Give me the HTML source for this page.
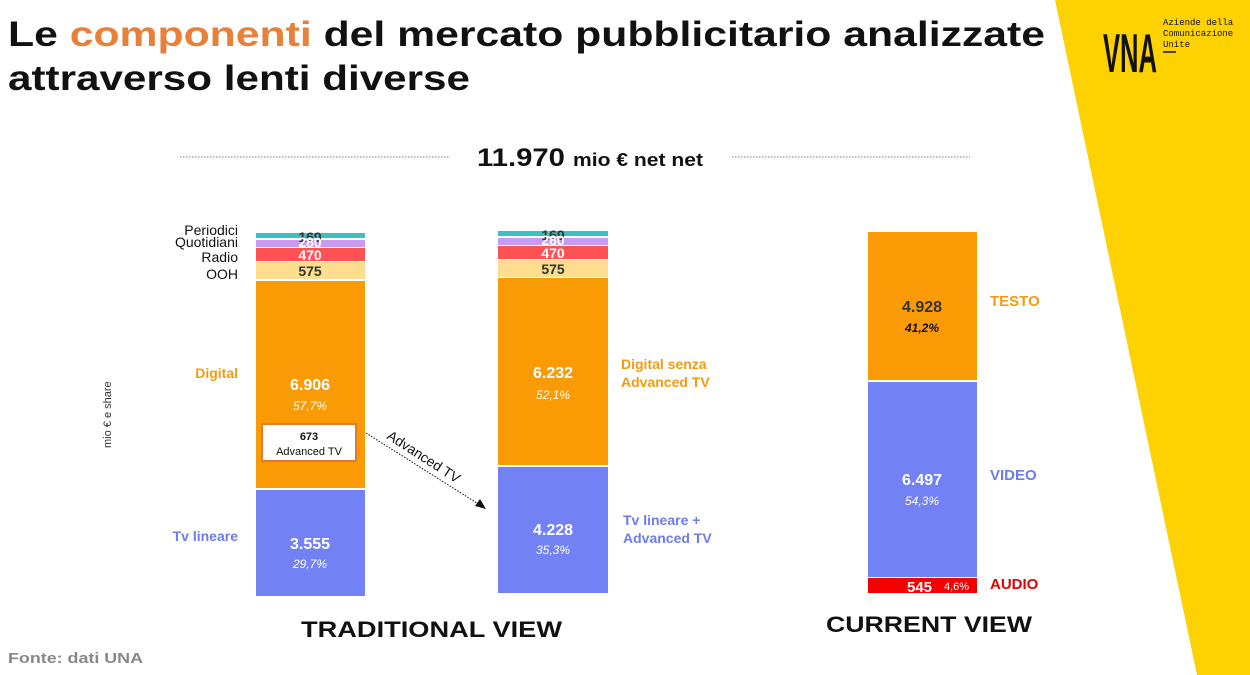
<!DOCTYPE html>
<html><head><meta charset="utf-8"><style>
html,body{margin:0;padding:0;background:#fff;}
svg{display:block;font-family:"Liberation Sans",sans-serif;}
</style></head><body>
<svg width="1250" height="675" viewBox="0 0 1250 675" xmlns="http://www.w3.org/2000/svg">
<polygon points="1055,0 1250,0 1250,675 1197,675" fill="#FED100"/>
<!-- logo -->
<text transform="translate(1103,72) scale(1,1.6)" font-size="34" font-weight="bold" fill="#111" textLength="54" lengthAdjust="spacingAndGlyphs">VNA</text>
<text x="1163" y="25" font-family="Liberation Mono,monospace" font-size="9" fill="#111">Aziende della</text>
<text x="1163" y="36" font-family="Liberation Mono,monospace" font-size="9" fill="#111">Comunicazione</text>
<text x="1163" y="47" font-family="Liberation Mono,monospace" font-size="9" fill="#111">Unite</text>
<line x1="1163" y1="52" x2="1176" y2="52" stroke="#111" stroke-width="1.5"/>
<!-- title -->
<text x="8" y="46" font-size="35" font-weight="bold" textLength="1037" lengthAdjust="spacingAndGlyphs" fill="#111">Le <tspan fill="#E8803A">componenti</tspan> del mercato pubblicitario analizzate</text>
<text x="8" y="90" font-size="35" font-weight="bold" textLength="462" lengthAdjust="spacingAndGlyphs" fill="#111">attraverso lenti diverse</text>
<!-- total -->
<line x1="180" y1="157" x2="450" y2="157" stroke="#777" stroke-dasharray="1.5,1.5"/>
<line x1="732" y1="157" x2="970" y2="157" stroke="#777" stroke-dasharray="1.5,1.5"/>
<text x="477" y="166" font-size="25" font-weight="bold" fill="#111" textLength="226" lengthAdjust="spacingAndGlyphs">11.970 <tspan font-size="18">mio € net net</tspan></text>
<text transform="translate(111,448) rotate(-90)" font-size="11" fill="#333">mio € e share</text>
<!-- left bar -->
<rect x="256" y="233" width="109" height="5" fill="#3FC0C0"/>
<rect x="256" y="240" width="109" height="7" fill="#C89BF0"/>
<rect x="256" y="248" width="109" height="13" fill="#FF5252"/>
<rect x="256" y="262" width="109" height="17" fill="#FDDD8E"/>
<rect x="256" y="281" width="109" height="207" fill="#FA9A05"/>
<rect x="256" y="490" width="109" height="106" fill="#7282F5"/>
<g font-size="14" font-weight="bold" text-anchor="middle">
<text x="310" y="242" fill="#333">169</text>
<text x="310" y="247" fill="#fff">280</text>
<text x="310" y="260" fill="#fff">470</text>
<text x="310" y="276" fill="#333">575</text>
<text x="310" y="390" fill="#fff" font-size="16">6.906</text>
<text x="310" y="410" fill="#fff" font-size="12" font-style="italic" font-weight="normal">57,7%</text>
<text x="310" y="549" fill="#fff" font-size="16">3.555</text>
<text x="310" y="568" fill="#fff" font-size="12" font-style="italic" font-weight="normal">29,7%</text>
</g>
<rect x="262" y="424" width="94" height="37" fill="#fff" stroke="#E47B2C" stroke-width="2"/>
<text x="309" y="440" font-size="11" font-weight="bold" text-anchor="middle" fill="#111">673</text>
<text x="309" y="455" font-size="11" text-anchor="middle" fill="#111">Advanced TV</text>
<g font-size="14" text-anchor="end" fill="#111">
<text x="238" y="235">Periodici</text>
<text x="238" y="247">Quotidiani</text>
<text x="238" y="262">Radio</text>
<text x="238" y="279">OOH</text>
<text x="238" y="378" fill="#F59A0F" font-weight="bold" font-size="14">Digital</text>
<text x="238" y="541" fill="#6C7BEF" font-weight="bold" font-size="14">Tv lineare</text>
</g>
<!-- arrow -->
<line x1="366" y1="433" x2="480" y2="505" stroke="#111" stroke-dasharray="1.5,1.5"/>
<polygon points="486,509 475,506 480,499" fill="#111"/>
<text transform="translate(386,438) rotate(33)" font-size="14" fill="#111">Advanced TV</text>
<!-- middle bar -->
<rect x="498" y="231" width="110" height="5" fill="#3FC0C0"/>
<rect x="498" y="238" width="110" height="7" fill="#C89BF0"/>
<rect x="498" y="246" width="110" height="13" fill="#FF5252"/>
<rect x="498" y="260" width="110" height="17" fill="#FDDD8E"/>
<rect x="498" y="278" width="110" height="187" fill="#FA9A05"/>
<rect x="498" y="467" width="110" height="126" fill="#7282F5"/>
<g font-size="14" font-weight="bold" text-anchor="middle">
<text x="553" y="240" fill="#333">169</text>
<text x="553" y="245" fill="#fff">280</text>
<text x="553" y="258" fill="#fff">470</text>
<text x="553" y="274" fill="#333">575</text>
<text x="553" y="378" fill="#fff" font-size="16">6.232</text>
<text x="553" y="399" fill="#fff" font-size="12" font-style="italic" font-weight="normal">52,1%</text>
<text x="553" y="535" fill="#fff" font-size="16">4.228</text>
<text x="553" y="554" fill="#fff" font-size="12" font-style="italic" font-weight="normal">35,3%</text>
</g>
<g font-size="14" font-weight="bold">
<text x="621" y="369" fill="#F59A0F">Digital senza</text>
<text x="621" y="387" fill="#F59A0F">Advanced TV</text>
<text x="623" y="525" fill="#6C7BEF">Tv lineare +</text>
<text x="623" y="543" fill="#6C7BEF">Advanced TV</text>
</g>
<!-- right bar -->
<rect x="868" y="232" width="109" height="148" fill="#FA9A05"/>
<rect x="868" y="382" width="109" height="195" fill="#7282F5"/>
<rect x="868" y="578" width="109" height="15" fill="#F40000"/>
<g text-anchor="middle" font-weight="bold">
<text x="922" y="312" font-size="16" fill="#333">4.928</text>
<text x="922" y="332" font-size="12" font-style="italic" fill="#111">41,2%</text>
<text x="922" y="485" font-size="16" fill="#fff">6.497</text>
<text x="922" y="505" font-size="12" font-style="italic" font-weight="normal" fill="#fff">54,3%</text>
</g>
<text x="907" y="592" font-size="15" font-weight="bold" fill="#fff">545</text>
<text x="944" y="590" font-size="11" fill="#fff">4,6%</text>
<g font-size="15" font-weight="bold">
<text x="990" y="306" fill="#F59A0F">TESTO</text>
<text x="990" y="480" fill="#6C7BEF">VIDEO</text>
<text x="990" y="589" fill="#E00000">AUDIO</text>
</g>
<text x="301" y="637" font-size="22" font-weight="bold" fill="#111" textLength="261" lengthAdjust="spacingAndGlyphs">TRADITIONAL VIEW</text>
<text x="826" y="632" font-size="22" font-weight="bold" fill="#111" textLength="206" lengthAdjust="spacingAndGlyphs">CURRENT VIEW</text>
<text x="8" y="663" font-size="15" font-weight="bold" fill="#888" textLength="135" lengthAdjust="spacingAndGlyphs">Fonte: dati UNA</text>
</svg>
</body></html>
